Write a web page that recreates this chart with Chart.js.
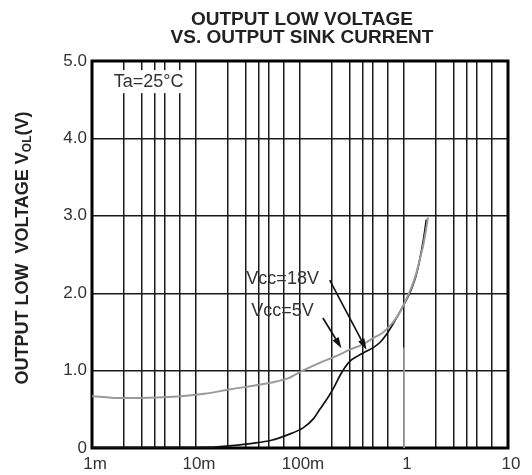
<!DOCTYPE html>
<html lang="en">
<head>
  <meta charset="UTF-8">
  <title>Output Low Voltage vs. Output Sink Current</title>
  <!-- Chart.js (via CDN) -->
  <script src="https://cdn.jsdelivr.net/npm/chart.js"></script>
  <style>
    html, body { margin: 0; padding: 0; background: #fff; }
  </style>
</head>
<body>

  <canvas id="volChart" width="532" height="475"></canvas>

  <script>
    // Vcc=18V curve (black): sink current in A, VOL in V
    const current18 = [0.001, 0.003, 0.01, 0.016, 0.022, 0.035, 0.053, 0.076, 0.107, 0.135, 0.155, 0.175, 0.193, 0.215, 0.241, 0.27, 0.301, 0.36, 0.435, 0.51, 0.583, 0.68, 0.783, 0.95, 1.135, 1.2, 1.3, 1.38, 1.46, 1.55, 1.64];
    const vol18 = [0.01, 0.01, 0.01, 0.015, 0.03, 0.06, 0.10, 0.17, 0.26, 0.38, 0.50, 0.60, 0.69, 0.80, 0.93, 1.04, 1.12, 1.19, 1.25, 1.30, 1.36, 1.47, 1.60, 1.80, 2.0, 2.08, 2.22, 2.36, 2.52, 2.72, 2.95];

    // Vcc=5V curve (gray)
    const current5 = [0.001, 0.0013, 0.00177, 0.0025, 0.0036, 0.0067, 0.012, 0.0216, 0.0419, 0.0762, 0.106, 0.155, 0.225, 0.30, 0.401, 0.52, 0.624, 0.78, 0.91, 1.135, 1.2, 1.3, 1.42, 1.52, 1.62, 1.70];
    const vol5 = [0.67, 0.66, 0.645, 0.645, 0.65, 0.665, 0.70, 0.76, 0.82, 0.90, 1.0, 1.10, 1.19, 1.27, 1.34, 1.43, 1.49, 1.62, 1.75, 2.02, 2.1, 2.24, 2.44, 2.6, 2.8, 2.98];

    // short gray stub on the 1A gridline
    const stubCurrent = [1, 1];
    const stubVol = [0, 1.3];

    // grid / tick positions
    const xGrid = [0.001, 0.002, 0.003, 0.004, 0.005, 0.007,
                   0.01, 0.02, 0.03, 0.04, 0.05, 0.07,
                   0.1, 0.2, 0.3, 0.4, 0.5, 0.7,
                   1, 2, 3, 4, 5, 7, 10];
    const xTickValues = [0.001, 0.01, 0.1, 1, 10];
    const xTickLabels = ["1m", "10m", "100m", "1", "10"];
    const yTickValues = [0, 1, 2, 3, 4, 5];
    const yTickLabels = ["0", "1.0", "2.0", "3.0", "4.0", "5.0"];

    const titleLines = ["OUTPUT LOW VOLTAGE", "VS. OUTPUT SINK CURRENT"];
    const yTitleMain = "OUTPUT LOW  VOLTAGE V";
    const yTitleSub = "OL";
    const yTitleEnd = "(V)";

    // annotation text and arrows in data units
    const notes = [
      { text: "Vcc=18V", x: 0.0305, y: 2.18 },
      { text: "Vcc=5V", x: 0.034, y: 1.77 }
    ];
    const arrows = [
      { from: [0.193, 2.17], to: [0.435, 1.27] },
      { from: [0.166, 1.68], to: [0.25, 1.29] }
    ];
    const tempNote = { text: "Ta=25°C", x: 0.0035, y: 4.74 };

    const FONT = "'Liberation Sans', Arial, sans-serif";

    function toPoints(xs, ys) {
      return xs.map((x, i) => ({ x: x, y: ys[i] }));
    }

    const decorPlugin = {
      id: "decor",
      beforeDatasetsDraw(chart) {
        const ctx = chart.ctx;
        const a = chart.chartArea;
        const sx = chart.scales.x, sy = chart.scales.y;
        // white box behind Ta=25°C
        ctx.save();
        ctx.font = "18px " + FONT;
        const w = ctx.measureText(tempNote.text).width;
        const cx = sx.getPixelForValue(tempNote.x);
        const cy = sy.getPixelForValue(tempNote.y);
        ctx.fillStyle = "#fff";
        ctx.fillRect(cx - w / 2 - 8, cy - 11, w + 16, 23);
        // frame
        ctx.strokeStyle = "#000";
        ctx.lineWidth = 3;
        ctx.strokeRect(a.left, a.top, a.right - a.left, a.bottom - a.top);
        ctx.restore();
      },
      afterDatasetsDraw(chart) {
        const ctx = chart.ctx;
        const a = chart.chartArea;
        const sx = chart.scales.x, sy = chart.scales.y;
        ctx.save();

        // title
        ctx.fillStyle = "#222";
        ctx.font = "bold 19px " + FONT;
        ctx.textAlign = "center";
        ctx.textBaseline = "middle";
        const tx = (a.left + a.right) / 2 + 2;
        ctx.fillText(titleLines[0], tx, 20);
        ctx.fillText(titleLines[1], tx, 38);

        // Ta note
        ctx.font = "18px " + FONT;
        ctx.fillStyle = "#333";
        ctx.fillText(tempNote.text, sx.getPixelForValue(tempNote.x), sy.getPixelForValue(tempNote.y) + 1);

        // Vcc notes
        ctx.textAlign = "left";
        notes.forEach(n => {
          ctx.fillText(n.text, sx.getPixelForValue(n.x), sy.getPixelForValue(n.y));
        });

        // arrows
        ctx.strokeStyle = "#111";
        ctx.fillStyle = "#111";
        ctx.lineWidth = 1.6;
        arrows.forEach(ar => {
          const x1 = sx.getPixelForValue(ar.from[0]), y1 = sy.getPixelForValue(ar.from[1]);
          const x2 = sx.getPixelForValue(ar.to[0]), y2 = sy.getPixelForValue(ar.to[1]);
          const ang = Math.atan2(y2 - y1, x2 - x1);
          const len = 11, half = 3.5;
          const bx = x2 - len * Math.cos(ang), by = y2 - len * Math.sin(ang);
          ctx.beginPath();
          ctx.moveTo(x1, y1);
          ctx.lineTo(bx, by);
          ctx.stroke();
          ctx.beginPath();
          ctx.moveTo(x2, y2);
          ctx.lineTo(bx + half * Math.sin(ang), by - half * Math.cos(ang));
          ctx.lineTo(bx - half * Math.sin(ang), by + half * Math.cos(ang));
          ctx.closePath();
          ctx.fill();
        });

        // y axis title with subscript
        ctx.fillStyle = "#222";
        ctx.textAlign = "left";
        ctx.textBaseline = "alphabetic";
        const bigFont = "bold 18px " + FONT, smallFont = "bold 12px " + FONT;
        ctx.font = bigFont;
        const w1 = ctx.measureText(yTitleMain).width;
        const w3 = ctx.measureText(yTitleEnd).width;
        ctx.font = smallFont;
        const w2 = ctx.measureText(yTitleSub).width;
        const total = w1 + w2 + w3;
        ctx.translate(28, 248);
        ctx.rotate(-Math.PI / 2);
        let px = -total / 2;
        ctx.font = bigFont;
        ctx.fillText(yTitleMain, px, 0);
        px += w1;
        ctx.font = smallFont;
        ctx.fillText(yTitleSub, px, 3);
        px += w2;
        ctx.font = bigFont;
        ctx.fillText(yTitleEnd, px, 0);

        ctx.restore();
      }
    };

    const ctx = document.getElementById("volChart").getContext("2d");
    new Chart(ctx, {
      type: "line",
      data: {
        datasets: [
          {
            label: "Vcc=5V",
            data: toPoints(current5, vol5),
            borderColor: "#9a9a9a",
            borderWidth: 2,
            pointRadius: 0,
            cubicInterpolationMode: "monotone"
          },
          {
            label: "Vcc=18V",
            data: toPoints(current18, vol18),
            borderColor: "#111",
            borderWidth: 1.7,
            pointRadius: 0,
            cubicInterpolationMode: "monotone"
          },
          {
            label: "stub",
            data: toPoints(stubCurrent, stubVol),
            borderColor: "#aaa",
            borderWidth: 1.6,
            pointRadius: 0
          }
        ]
      },
      options: {
        responsive: false,
        animation: false,
        devicePixelRatio: 1,
        layout: { padding: { left: 0, right: 24, top: 61, bottom: 0 } },
        plugins: {
          legend: { display: false },
          title: { display: false },
          tooltip: { enabled: false }
        },
        scales: {
          x: {
            type: "logarithmic",
            min: 0.001,
            max: 10,
            afterBuildTicks(scale) {
              scale.ticks = xGrid.map(v => ({ value: v }));
            },
            afterFit(scale) { scale.height = 27; },
            grid: { color: "#1a1a1a", lineWidth: 1.5, drawTicks: false },
            border: { display: false },
            ticks: {
              autoSkip: false,
              maxRotation: 0,
              padding: 6,
              labelOffset: 3,
              color: "#333",
              font: { family: FONT, size: 17 },
              callback(value) {
                const i = xTickValues.findIndex(t => Math.abs(t - value) / t < 1e-6);
                return i >= 0 ? xTickLabels[i] : "";
              }
            }
          },
          y: {
            min: 0,
            max: 5,
            afterBuildTicks(scale) {
              scale.ticks = yTickValues.map(v => ({ value: v }));
            },
            afterFit(scale) { scale.width = 92; },
            grid: { color: "#1a1a1a", lineWidth: 1.4, drawTicks: false },
            border: { display: false },
            ticks: {
              padding: 5,
              color: "#333",
              font: { family: FONT, size: 17 },
              callback(value) {
                const i = yTickValues.indexOf(value);
                return i >= 0 ? yTickLabels[i] : "";
              }
            }
          }
        }
      },
      plugins: [decorPlugin]
    });
  </script>

</body>
</html>
